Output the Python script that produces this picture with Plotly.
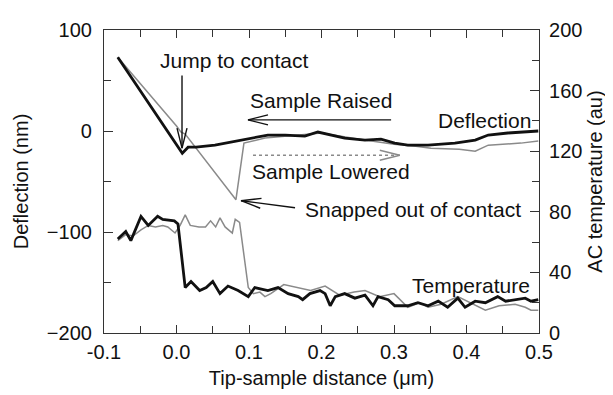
import math
import plotly.graph_objects as go

# Deflection (nm) - sample raised (black, approach)
defl_raised_x = [-0.081, 0.008, 0.016, 0.027, 0.053, 0.089, 0.126, 0.150, 0.177, 0.195, 0.213,
                 0.232, 0.260, 0.282, 0.301, 0.319, 0.347, 0.384, 0.412, 0.430, 0.457, 0.499]
defl_raised_y = [73, -22, -16, -16, -14, -9, -4, -4, -5, -1, -4,
                 -7, -9, -8, -12, -14, -14, -12, -9, -4, -2, 0]

# Deflection (nm) - sample lowered (grey, retract)
defl_lowered_x = [-0.081, -0.04, 0.0, 0.006, 0.012, 0.082, 0.093, 0.122, 0.150, 0.200, 0.250,
                  0.300, 0.330, 0.351, 0.390, 0.412, 0.430, 0.475, 0.499]
defl_lowered_y = [73, 39, 5, -1, -3, -68, -12, -7, -5, -2, -8,
                  -13, -15, -17, -18, -20, -14, -12, -10]

# AC temperature (au) - black
temp_black_x = [-0.081, -0.070, -0.063, -0.049, -0.039, -0.026, -0.019, -0.003, 0.002, 0.012,
                0.020, 0.032, 0.041, 0.050, 0.060, 0.071, 0.085, 0.099, 0.108, 0.126,
                0.140, 0.154, 0.168, 0.174, 0.184, 0.198, 0.205, 0.212, 0.219, 0.232,
                0.246, 0.260, 0.271, 0.278, 0.292, 0.301, 0.319, 0.333, 0.347, 0.361,
                0.374, 0.388, 0.398, 0.412, 0.426, 0.434, 0.443, 0.454, 0.467, 0.481,
                0.489, 0.499]
temp_black_y = [62, 67, 61, 77, 71, 77, 75, 74, 72, 30,
                34, 28, 30, 34, 26, 31, 28, 24, 30, 28,
                30, 26, 24, 22, 26, 28, 26, 18, 24, 26,
                23, 25, 18, 24, 22, 18, 18, 20, 18, 21,
                17, 23, 17, 21, 20, 22, 24, 21, 22, 23,
                21, 22]

# AC temperature (au) - grey
temp_grey_x = [-0.081, -0.070, -0.060, -0.049, -0.039, -0.029, -0.019, -0.012, -0.002, 0.005,
               0.012, 0.019, 0.031, 0.040, 0.047, 0.054, 0.060, 0.067, 0.077, 0.081,
               0.087, 0.099, 0.106, 0.115, 0.122, 0.130, 0.148, 0.165, 0.185, 0.205,
               0.225, 0.245, 0.260, 0.280, 0.300, 0.319, 0.335, 0.347, 0.365, 0.388,
               0.405, 0.426, 0.445, 0.467, 0.481, 0.489, 0.499]
temp_grey_y = [61, 65, 64, 68, 71, 70, 71, 70, 66, 71,
               78, 71, 70, 70, 74, 70, 76, 70, 66, 75,
               73, 30, 26, 27, 24, 26, 32, 30, 28, 31,
               25, 27, 28, 24, 26, 17, 20, 17, 19, 24,
               20, 15, 18, 19, 17, 15, 15]

FONT = "Arial, Liberation Sans, Helvetica, sans-serif"
AXC = "#333333"
BLACK = "#111111"
GREY = "#8a8a8a"
FS_TICK = 20
FS_ANN = 21

fig = go.Figure()
fig.add_trace(go.Scatter(x=temp_grey_x, y=temp_grey_y, yaxis="y2", mode="lines",
                         line=dict(color=GREY, width=1.5), showlegend=False))
fig.add_trace(go.Scatter(x=temp_black_x, y=temp_black_y, yaxis="y2", mode="lines",
                         line=dict(color=BLACK, width=2.8), showlegend=False))
fig.add_trace(go.Scatter(x=defl_lowered_x, y=defl_lowered_y, mode="lines",
                         line=dict(color=GREY, width=1.5), showlegend=False))
fig.add_trace(go.Scatter(x=defl_raised_x, y=defl_raised_y, mode="lines",
                         line=dict(color=BLACK, width=2.8), showlegend=False))

tf = dict(family=FONT, size=FS_TICK, color=BLACK)
fig.update_layout(
    width=613, height=395,
    margin=dict(l=96, r=82, t=22, b=70),
    paper_bgcolor="white", plot_bgcolor="white",
    font=dict(family=FONT, size=FS_TICK, color=BLACK),
    xaxis=dict(range=[-0.1, 0.5], tickvals=[-0.1, 0.0, 0.1, 0.2, 0.3, 0.4, 0.5],
               ticktext=["-0.1", "0.0", "0.1", "0.2", "0.3", "0.4", "0.5"],
               ticks="inside", ticklen=8, tickcolor=AXC, showline=True, linecolor=AXC,
               linewidth=1.2, mirror="ticks", showgrid=False, zeroline=False,
               minor=dict(dtick=0.05, tick0=0, ticks="inside", ticklen=7, tickcolor=AXC),
               title=dict(text="Tip-sample distance (\u03bcm)", font=tf, standoff=8),
               tickfont=tf, ticklabelstandoff=1, automargin=False),
    yaxis=dict(range=[-200, 100], tickvals=[-200, -100, 0, 100],
               ticks="inside", ticklen=9, tickcolor=AXC, showline=True, linecolor=AXC,
               linewidth=1.2, showgrid=False, zeroline=False,
               minor=dict(dtick=50, tick0=0, ticks="inside", ticklen=7, tickcolor=AXC),
               title=dict(text="Deflection (nm)", font=tf, standoff=12), tickfont=tf,
               ticklabelstandoff=7, automargin=False),
    yaxis2=dict(range=[0, 200], tickvals=[0, 40, 80, 120, 160, 200], overlaying="y",
                side="right", ticks="inside", ticklen=9, tickcolor=AXC, showline=True,
                linecolor=AXC, linewidth=1.2, showgrid=False, zeroline=False,
                minor=dict(dtick=20, tick0=0, ticks="inside", ticklen=7, tickcolor=AXC),
                title=dict(text="AC temperature (au)", font=tf, standoff=6), tickfont=tf,
                ticklabelstandoff=5, automargin=False),
)

ann_font = dict(family=FONT, size=FS_ANN, color=BLACK)
fig.update_layout(annotations=[
    dict(x=-0.0255, y=70, xref="x", yref="y", text="Jump to contact", showarrow=False,
         xanchor="left", font=ann_font),
    dict(x=0.0986, y=30, xref="x", yref="y", text="Sample Raised", showarrow=False,
         xanchor="left", font=ann_font),
    dict(x=0.1014, y=-40, xref="x", yref="y", text="Sample Lowered", showarrow=False,
         xanchor="left", font=ann_font),
    dict(x=0.358, y=10, xref="x", yref="y", text="Deflection", showarrow=False,
         xanchor="left", font=ann_font),
    dict(x=0.1745, y=-78, xref="x", yref="y", text="Snapped out of contact", showarrow=False,
         xanchor="left", font=ann_font),
    dict(x=0.322, y=-153, xref="x", yref="y", text="Temperature", showarrow=False,
         xanchor="left", font=ann_font),
])


def arrow(x0, y0, x1, y1, color, dash="solid", L=20, W=5):
    """Shaft from (x0,y0) to tip (x1,y1) in data coords, with an open V head."""
    dx = (x1 - x0) * 725.0
    dy = -(y1 - y0) * 1.01
    n = math.hypot(dx, dy)
    ux, uy = dx / n, dy / n
    bx, by = -ux, -uy
    px, py = -uy, ux
    a1 = (L * bx + W * px, L * by + W * py)
    a2 = (L * bx - W * px, L * by - W * py)
    path = f"M {a1[0]:.2f} {-a1[1]:.2f} L 0 0 L {a2[0]:.2f} {-a2[1]:.2f}"
    return [
        dict(type="line", xref="x", yref="y", x0=x0, y0=y0, x1=x1, y1=y1,
             line=dict(color=color, width=1.4, dash=dash)),
        dict(type="path", xref="x", yref="y", xsizemode="pixel", ysizemode="pixel",
             xanchor=x1, yanchor=y1, path=path, line=dict(color=color, width=1.4)),
    ]


shapes = []
shapes += arrow(0.0076, 55, 0.0076, -17, BLACK)
shapes += arrow(0.296, 11, 0.0986, 11, BLACK)
shapes += arrow(0.1055, -24, 0.308, -24, GREY, dash="dot")
shapes += arrow(0.1635, -76, 0.089, -69, BLACK)
fig.update_layout(shapes=shapes)

fig.write_html("out.html")
